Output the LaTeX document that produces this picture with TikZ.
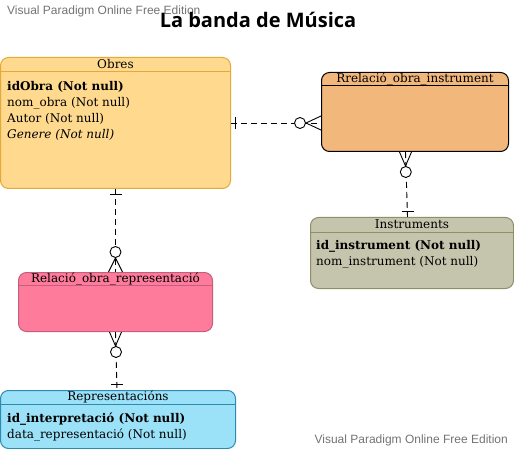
\documentclass[tikz,border=0pt]{standalone}
\usepackage{fontspec}
\setmainfont{DejaVu Serif}
\newfontfamily\titlefont{Open Sans}
\newfontfamily\wmfont{Liberation Sans}
\usetikzlibrary{positioning,calc}
\definecolor{obraFill}{HTML}{FED98E}
\definecolor{obraLine}{HTML}{E3A93B}
\definecolor{oiFill}{HTML}{F2B77B}
\definecolor{instrFill}{HTML}{C5C4AD}
\definecolor{instrLine}{HTML}{8F8F6A}
\definecolor{orFill}{HTML}{FF7B9B}
\definecolor{orLine}{HTML}{C2607B}
\definecolor{reprFill}{HTML}{9BE1F8}
\definecolor{reprLine}{HTML}{2E8AAE}

\begin{document}
\begin{tikzpicture}[
    x=1pt, y=-1pt,
    font=\fontsize{12}{14}\selectfont,
    entity/.style={draw, line width=1pt, rounded corners=8pt, anchor=north west, inner sep=0pt},
    hdr/.style={anchor=north, inner sep=0pt, minimum height=14pt},
    attr/.style={anchor=north west, align=left, inner sep=0pt, font=\fontsize{12}{16}\selectfont},
    link/.style={line width=0.9pt, dash pattern=on 6pt off 4pt},
    endbar/.style={line width=0.9pt},
    wmark/.style={text=black!55, inner sep=0pt, font=\wmfont\fontsize{12}{14}\selectfont}
  ]
    \useasboundingbox (0,0) rectangle (514,449);

    % watermark and title
    \node[wmark, anchor=west] (wmTop) at (7,11) {Visual Paradigm Online Free Edition};
    \node[wmark, anchor=east] (wmBot) at (508,440) {Visual Paradigm Online Free Edition};
    \node[font=\titlefont\bfseries\fontsize{20}{22}\selectfont] (title) at (258,20) {La banda de Música};

    % Obres
    \node[entity, fill=obraFill, draw=obraLine, minimum width=230pt, minimum height=131pt] (obres) at (0,57) {};
    \node[hdr] (obresH) at (obres.north) {Obres};
    \draw[obraLine, line width=1pt] (obres.west |- obresH.south) -- (obres.east |- obresH.south);
    \node[attr] (obresA) at ($(obres.west |- obresH.south)+(7,10)$)
      {\textbf{idObra (Not null)}\\nom\_obra (Not null)\\Autor (Not null)\\\textit{Genere (Not null)}};

    % Rrelacio obra instrument
    \node[entity, fill=oiFill, minimum width=187pt, minimum height=79pt] (relOI) at (321,72) {};
    \node[hdr, minimum height=13pt] (relOIH) at (relOI.north) {Rrelació\_obra\_instrument};
    \draw[line width=1pt] (relOI.west |- relOIH.south) -- (relOI.east |- relOIH.south);

    % Instruments
    \node[entity, fill=instrFill, draw=instrLine, minimum width=203pt, minimum height=71pt] (instr) at (310,217) {};
    \node[hdr, minimum height=15pt] (instrH) at (instr.north) {Instruments};
    \draw[instrLine, line width=1pt] (instr.west |- instrH.south) -- (instr.east |- instrH.south);
    \node[attr] (instrA) at ($(instr.west |- instrH.south)+(6,8)$)
      {\textbf{id\_instrument (Not null)}\\nom\_instrument (Not null)};

    % Relacio obra representacio
    \node[entity, fill=orFill, draw=orLine, minimum width=194pt, minimum height=59pt] (relOR) at (18,272) {};
    \node[hdr, minimum height=13pt] (relORH) at (relOR.north) {Relació\_obra\_representació};
    \draw[orLine, line width=1pt] (relOR.west |- relORH.south) -- (relOR.east |- relORH.south);

    % Representacions
    \node[entity, fill=reprFill, draw=reprLine, minimum width=235pt, minimum height=58pt] (repr) at (0,390) {};
    \node[hdr] (reprH) at (repr.north) {Representacións};
    \draw[reprLine, line width=1pt] (repr.west |- reprH.south) -- (repr.east |- reprH.south);
    \node[attr] (reprA) at ($(repr.west |- reprH.south)+(7,8)$)
      {\textbf{id\_interpretació (Not null)}\\data\_representació (Not null)};

    % Obres -- Rrelacio_obra_instrument
    \coordinate (oiL) at (obres.east -| relOI.west);
    \draw[link] (obres.east) -- (oiL);
    \draw[endbar] ($(obres.east)+(4,-6)$) -- ++(0,12);
    \draw[endbar] ($(oiL)+(0,-7)$) -- ($(oiL)+(-15,0)$) -- ($(oiL)+(0,7)$);
    \draw[endbar, fill=white] ($(oiL)+(-21,0)$) circle (5.5pt);

    % Rrelacio_obra_instrument -- Instruments
    \coordinate (oiB) at ($(relOI.south)+(-9.5,0)$);
    \coordinate (inT) at ($(instr.north)+(-4.5,0)$);
    \draw[link] (oiB) -- (inT);
    \draw[endbar] ($(oiB)+(-6,0)$) -- ($(oiB)+(0,14)$) -- ($(oiB)+(6,0)$);
    \draw[endbar, fill=white] ($(oiB)+(0.3,20)$) circle (5.5pt);
    \draw[endbar] ($(inT)+(-6,-6)$) -- ++(12,0);

    % Obres -- Relacio_obra_representacio
    \draw[link] (obres.south) -- (relOR.north);
    \draw[endbar] ($(obres.south)+(-6,5)$) -- ++(12,0);
    \draw[endbar] ($(relOR.north)+(-7,0)$) -- ($(relOR.north)+(0,-14)$) -- ($(relOR.north)+(7,0)$);
    \draw[endbar, fill=white] ($(relOR.north)+(0,-20)$) circle (5.5pt);

    % Relacio_obra_representacio -- Representacions
    \coordinate (reT) at ($(repr.north)+(-1,0)$);
    \draw[link] (relOR.south) -- (reT);
    \draw[endbar] ($(relOR.south)+(-6,0)$) -- ($(relOR.south)+(0,14)$) -- ($(relOR.south)+(6,0)$);
    \draw[endbar, fill=white] ($(relOR.south)+(0.5,20)$) circle (5.5pt);
    \draw[endbar] ($(reT)+(-6,-6)$) -- ++(12,0);
  \end{tikzpicture}
\end{document}
